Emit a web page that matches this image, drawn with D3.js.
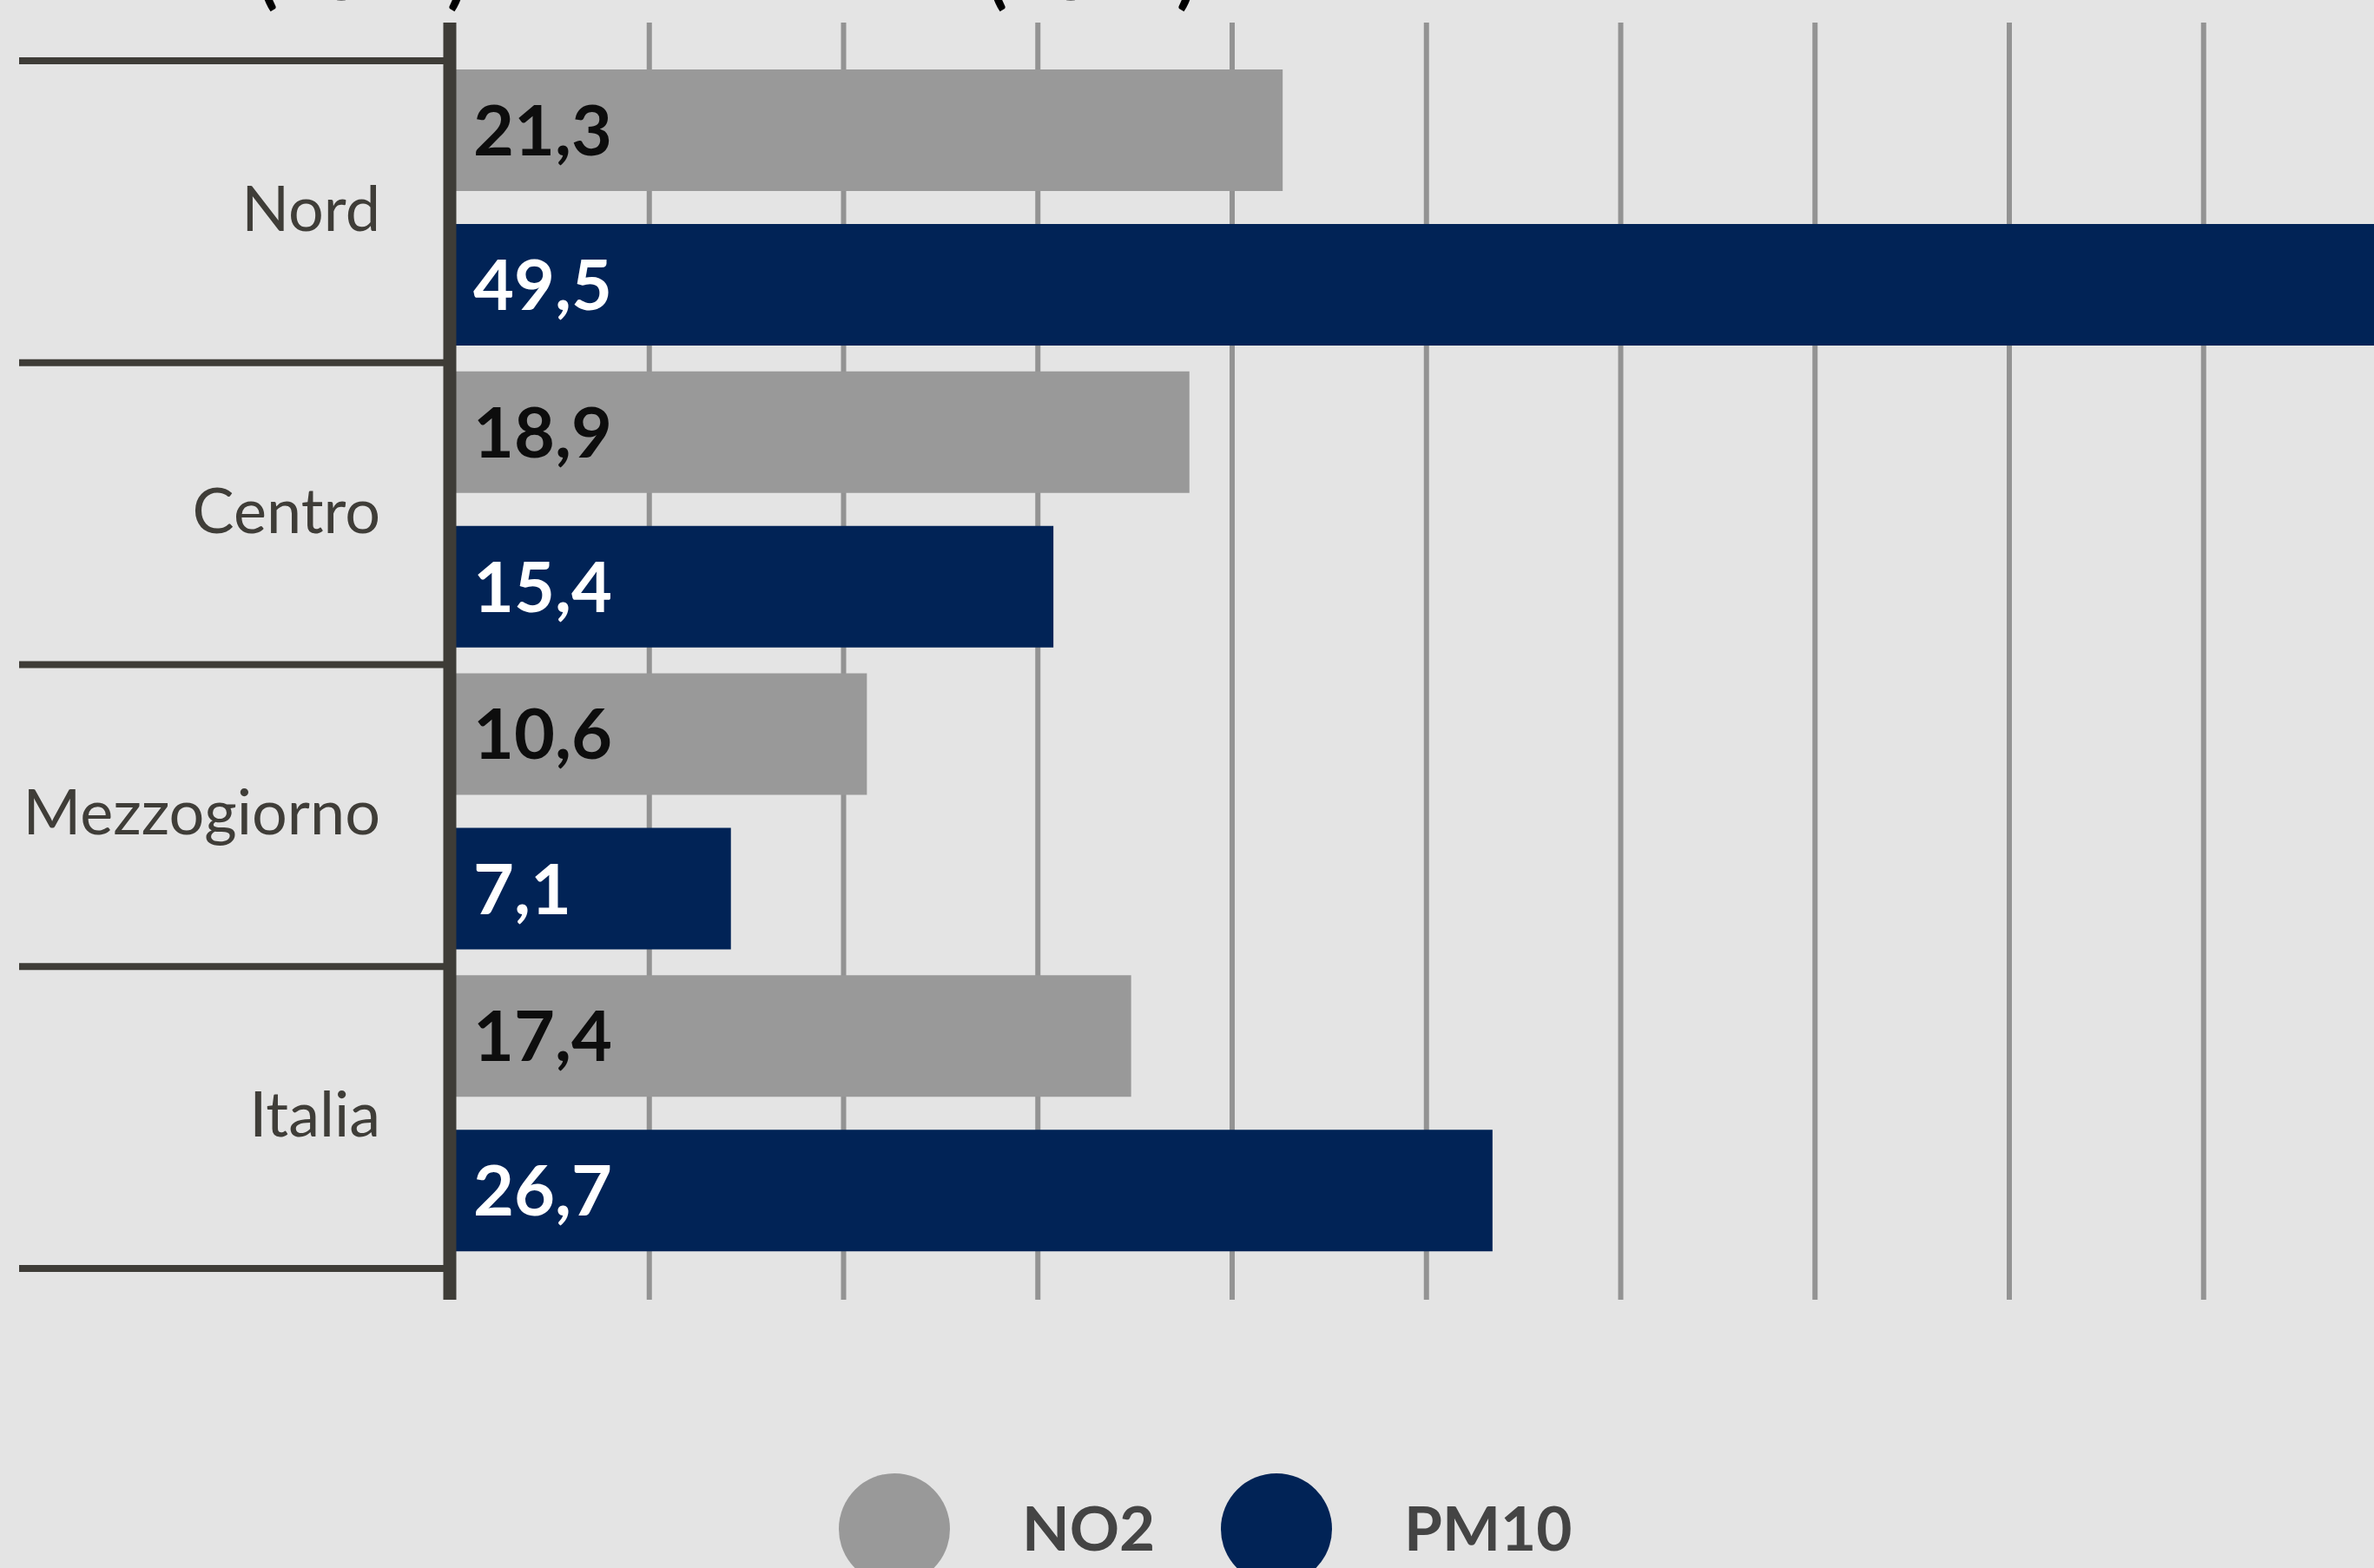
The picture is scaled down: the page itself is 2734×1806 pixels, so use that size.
<!DOCTYPE html>
<html>
<head>
<meta charset="utf-8">
<script src="https://cdn.jsdelivr.net/npm/d3@7"></script>
<style>
  html, body { margin: 0; padding: 0; background: #e4e4e4; }
  svg { display: block; }
  text { font-family: Lato, "Noto Sans", sans-serif; }
</style>
</head>
<body>
<svg id="chart" width="2734" height="1806"></svg>
<script>
// Areas and pollutant values (annual mean concentrations)
const categories = ["Nord", "Centro", "Mezzogiorno", "Italia"];
const seriesNames = ["NO2", "PM10"];
const no2Values = [21.3, 18.9, 10.6, 17.4];
const pm10Values = [49.5, 15.4, 7.1, 26.7];
const headerLabels = ["(2019)", "(2019)"];

const colors = { NO2: "#999999", PM10: "#012356" };
const labelColors = { NO2: "#0d0d0d", PM10: "#ffffff" };

const W = 2734, H = 1806;
const svg = d3.select("#chart");
svg.append("rect").attr("width", W).attr("height", H).attr("fill", "#e4e4e4");

const rows = categories.map((c, i) => ({ cat: c, NO2: no2Values[i], PM10: pm10Values[i] }));

const it = d3.formatLocale({ decimal: ",", thousands: ".", grouping: [3], currency: ["€", ""] });
const fmt = it.format(".1f");

// scales
const x = d3.scaleLinear().domain([0, 50]).range([524, 524 + 50 * 44.75]);
const y0 = d3.scaleBand().domain(categories).range([70, 1461]).padding(0);
const y1 = d3.scaleBand().domain(seriesNames).range([10, 328]).paddingInner(0.2135).paddingOuter(0);

const axisTop = 26, axisBottom = 1497;

// header line, mostly above the visible area
const headerX = [297, 1137];
svg.append("g").selectAll("text").data(headerLabels).join("text")
  .attr("x", (d, i) => headerX[i])
  .attr("y", 0)
  .attr("font-size", 84)
  .attr("font-weight", 700)
  .attr("fill", "#000")
  .text(d => d);

// vertical gridlines
const grid = svg.append("g");
grid.selectAll("line").data(x.ticks(10).filter(t => t > 0)).join("line")
  .attr("x1", d => x(d)).attr("x2", d => x(d))
  .attr("y1", axisTop).attr("y2", axisBottom)
  .attr("stroke", "#939393").attr("stroke-width", 6);

// bars
const groups = svg.append("g").selectAll("g").data(rows).join("g")
  .attr("transform", d => `translate(0,${y0(d.cat)})`);

groups.selectAll("rect").data(d => seriesNames.map(s => ({ s, v: d[s] }))).join("rect")
  .attr("x", x(0))
  .attr("y", d => y1(d.s))
  .attr("width", d => x(d.v) - x(0))
  .attr("height", y1.bandwidth())
  .attr("fill", d => colors[d.s]);

groups.selectAll("text.val").data(d => seriesNames.map(s => ({ s, v: d[s] }))).join("text")
  .attr("class", "val")
  .attr("x", x(0) + 21)
  .attr("y", d => y1(d.s) + y1.bandwidth() / 2 + 29)
  .attr("font-size", 81)
  .attr("font-weight", 700)
  .attr("fill", d => labelColors[d.s])
  .text(d => fmt(d.v));

// group separators (band boundaries)
const bounds = categories.map(c => y0(c)).concat([y0.range()[1]]);
svg.append("g").selectAll("line").data(bounds).join("line")
  .attr("x1", 22).attr("x2", 518)
  .attr("y1", d => d).attr("y2", d => d)
  .attr("stroke", "#3e3c37").attr("stroke-width", 8);

// category axis line
svg.append("line")
  .attr("x1", 518).attr("x2", 518)
  .attr("y1", axisTop).attr("y2", axisBottom)
  .attr("stroke", "#3e3c37").attr("stroke-width", 15);

// category labels
svg.append("g").selectAll("text").data(categories).join("text")
  .attr("x", 438)
  .attr("y", d => y0(d) + y0.bandwidth() / 2 - 4 + 26)
  .attr("text-anchor", "end")
  .attr("font-size", 72)
  .attr("fill", "#3f3d38")
  .text(d => d);

// legend
const legendCx = [1030, 1470];
const legend = svg.append("g").selectAll("g").data(seriesNames).join("g")
  .attr("transform", (d, i) => `translate(${legendCx[i]},1761)`);
legend.append("circle").attr("r", 64).attr("fill", d => colors[d]);
legend.append("text")
  .attr("x", 147)
  .attr("y", 25)
  .attr("font-size", 71)
  .attr("font-weight", 700)
  .attr("fill", "#444444")
  .text(d => d);
</script>
</body>
</html>
